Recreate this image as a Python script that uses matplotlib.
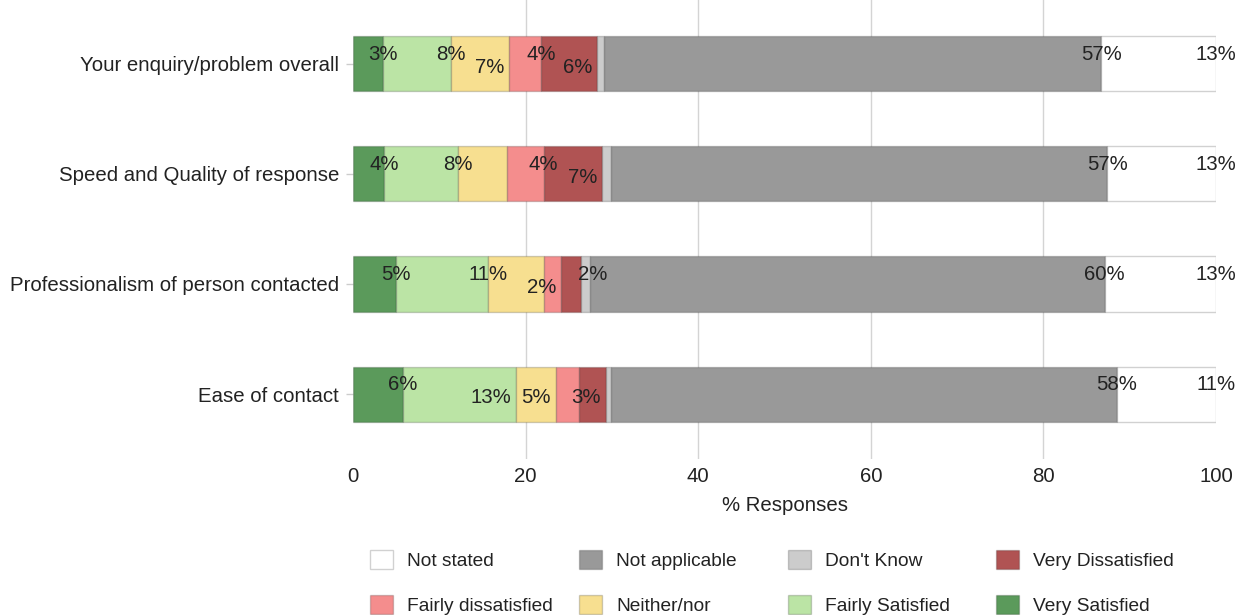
import numpy as np
import matplotlib
matplotlib.use("Agg")
import matplotlib.pyplot as plt
from matplotlib.patches import Patch

plt.rcParams["font.family"] = ["Liberation Sans", "DejaVu Sans"]

QUESTIONS = ["Your enquiry/problem overall", "Speed and Quality of response",
             "Professionalism of person contacted", "Ease of contact"]

# stacking order, left to right
SEGMENTS = ["Very Satisfied", "Fairly Satisfied", "Neither/nor",
            "Fairly dissatisfied", "Very Dissatisfied", "Don't Know",
            "Not applicable", "Not stated"]
COLOURS  = ["#5b9a5b", "#bbe4a5", "#f7df90", "#f48d8d", "#b05353",
            "#cccccc", "#999999", "#ffffff"]

# % responses per question, one row per question, columns follow SEGMENTS
VALUES = [
    [3.5, 7.8, 6.8, 3.7, 6.5, 0.8, 57.6, 13.3],
    [3.6, 8.6, 5.7, 4.2, 6.8, 1.0, 57.5, 12.6],
    [5.0, 10.7, 6.4, 2.0, 2.3, 1.1, 59.6, 12.9],
    [5.8, 13.1, 4.6, 2.7, 3.1, 0.6, 58.6, 11.5],
]
LABELS = [
    ["3%", "8%", "7%", "4%", "6%", None, "57%", "13%"],
    ["4%", "8%", None, "4%", "7%", None, "57%", "13%"],
    ["5%", "11%", None, "2%", "2%", None, "60%", "13%"],
    ["6%", "13%", "5%", None, "3%", None, "58%", "11%"],
]
# label placement: c = upper/centred, r = lower/right, l = upper/left
PLACE = [
    "ccrcr-cc",
    "cc-cr-cc",
    "cc-rl-cc",
    "crr-r-cc",
]

LEGEND_ORDER = ["Not stated", "Not applicable", "Don't Know", "Very Dissatisfied",
                "Fairly dissatisfied", "Neither/nor", "Fairly Satisfied", "Very Satisfied"]

FS = 14.7
W, H = 1246, 615
fig = plt.figure(figsize=(W / 100, H / 100), dpi=100)
ax = fig.add_axes([353 / W, 1 - 459 / H, (1216 - 353) / W, 459 / H])

vals = np.array(VALUES)
y = np.arange(len(QUESTIONS))
left = np.zeros(len(QUESTIONS))
for j, (seg, col) in enumerate(zip(SEGMENTS, COLOURS)):
    ax.barh(y, vals[:, j], left=left, height=0.5, color=col,
            edgecolor=(0, 0, 0, 0.18), lw=1.0, zorder=2)
    left = left + vals[:, j]

cum = np.cumsum(vals, axis=1)
for i in range(len(QUESTIONS)):
    for j in range(len(SEGMENTS)):
        txt, mode = LABELS[i][j], PLACE[i][j]
        if txt is None:
            continue
        if mode == "c":
            off, ha = (0, 7), "center"
        elif mode == "l":
            off, ha = (-2, 7), "left"
        else:
            off, ha = (-3.5, -2.5), "right"
        ax.annotate(txt, (cum[i, j], y[i]), xytext=off, textcoords="offset points",
                    ha=ha, va="center", fontsize=FS, color="#222222", zorder=3)

ax.set_xlim(0, 100)
ax.set_ylim(3.59, -0.58)
ax.set_xticks([0, 20, 40, 60, 80, 100])
ax.set_yticks(y)
ax.set_yticklabels(QUESTIONS, fontsize=FS, color="#222222")
ax.tick_params(axis="x", length=0, pad=6, labelsize=FS, labelcolor="#222222")
ax.tick_params(axis="y", length=5, width=1, color="#cccccc", pad=5)
for g in [20, 40, 60, 80]:
    ax.axvline(g, color="#d4d4d4", lw=1.0, zorder=1)
for s in ax.spines.values():
    s.set_visible(False)
ax.set_xlabel("% Responses", fontsize=FS, color="#222222", labelpad=7)

colour_of = dict(zip(SEGMENTS, COLOURS))
col_x = [370, 579, 788, 996]
for k, x0 in enumerate(col_x):
    names = [LEGEND_ORDER[k], LEGEND_ORDER[k + 4]]
    handles = [Patch(facecolor=colour_of[n], edgecolor=(0, 0, 0, 0.18), lw=1.0)
               for n in names]
    fig.legend(handles, names, loc="upper left",
               bbox_to_anchor=(x0 / W, 1 - 550 / H), frameon=False,
               fontsize=13.8, handlelength=1.2, handleheight=1.15,
               handletextpad=0.75, labelspacing=1.32, borderpad=0,
               borderaxespad=0, labelcolor="#222222")

fig.savefig("out.png", dpi=100)
